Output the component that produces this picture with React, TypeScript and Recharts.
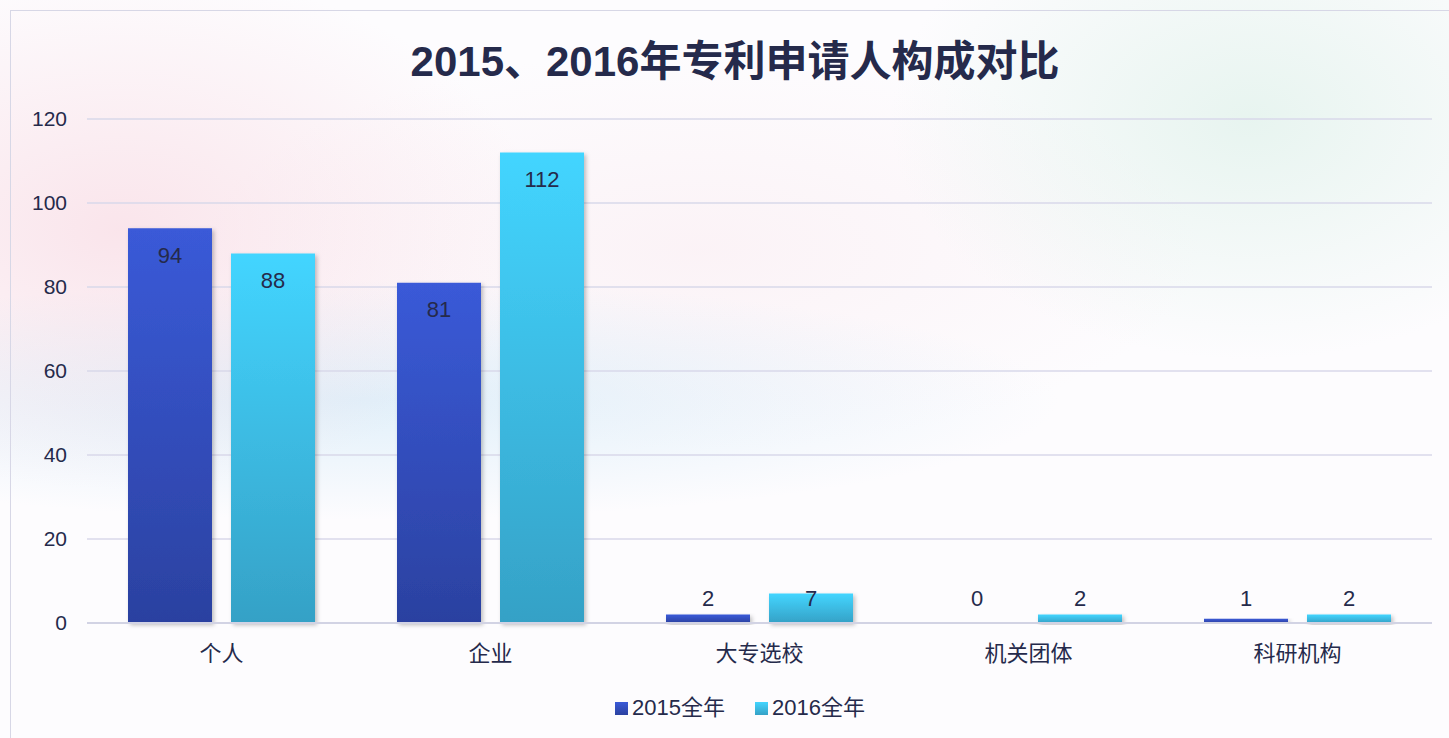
import { BarChart, Bar, XAxis, YAxis, CartesianGrid, Legend, LabelList } from "recharts";

const categories = ["个人", "企业", "大专选校", "机关团体", "科研机构"];
const y2015 = [94, 81, 2, 0, 1];
const y2016 = [88, 112, 7, 2, 2];
const seriesNames = ["2015全年", "2016全年"];
const yTicks = [0, 20, 40, 60, 80, 100, 120];

const data = categories.map((name, i) => ({ name, a: y2015[i], b: y2016[i] }));

const INK = "#252a4b";
const FONT = "'Liberation Sans', Arial, 'Noto Sans CJK SC', sans-serif";

// labels sit inside the top of tall bars, and float above short ones
const BarLabel = (props: any) => {
  const { x, y, width, height, value } = props;
  const cy = Math.min(y + 27, y + height - 25);
  return (
    <text
      x={x + width / 2}
      y={cy}
      textAnchor="middle"
      dominantBaseline="central"
      fill={INK}
      fontSize={22}
      fontFamily={FONT}
    >
      {value}
    </text>
  );
};

// keep zero-value bars (and so their labels) around
const tinyForZero = (v: any) => (v === 0 ? 0.01 : 0);

const LegendContent = () => (
  <div style={{ display: "flex", justifyContent: "center", gap: 30, fontFamily: FONT, fontSize: 22, lineHeight: "26px", color: INK }}>
    {seriesNames.map((n, i) => (
      <div key={n} style={{ display: "flex", alignItems: "center", gap: 4 }}>
        <span
          style={{
            width: 13,
            height: 13,
            display: "inline-block",
            background:
              i === 0
                ? "linear-gradient(#3a5ad8, #2b41a0)"
                : "linear-gradient(#43d5ff, #35a1c6)",
          }}
        />
        {n}
      </div>
    ))}
  </div>
);

export default function App() {
  return (
    <div
      style={{
        position: "absolute",
        left: 0,
        top: 0,
        width: 1449,
        height: 738,
        overflow: "hidden",
        background:
          "radial-gradient(ellipse 420px 260px at 120px 230px, rgba(246,200,212,0.45), transparent)," +
          "radial-gradient(ellipse 700px 120px at 360px 400px, rgba(190,225,245,0.45), transparent)," +
          "radial-gradient(ellipse 360px 240px at 1250px 120px, rgba(205,235,222,0.45), transparent)," +
          "radial-gradient(ellipse 500px 200px at 700px 250px, rgba(248,225,232,0.35), transparent)," +
          "#fdfcfe",
      }}
    >
      <div
        style={{
          position: "absolute",
          left: 10,
          top: 10,
          width: 1460,
          height: 760,
          border: "1px solid #d7d7e6",
        }}
      />
      <div
        style={{
          position: "absolute",
          left: 0,
          width: 1470,
          top: 37,
          textAlign: "center",
          fontFamily: FONT,
          fontWeight: 700,
          fontSize: 42,
          lineHeight: "50px",
          color: INK,
        }}
      >
        2015、2016年专利申请人构成对比
      </div>
      <BarChart
        width={1449}
        height={738}
        data={data}
        margin={{ top: 119, right: 17, left: 0, bottom: 54 }}
        barCategoryGap={41}
        barGap={19}
      >
        <defs>
          <linearGradient id="g15" x1="0" y1="0" x2="0" y2="1">
            <stop offset="0%" stopColor="#3a5ad8" />
            <stop offset="100%" stopColor="#2b41a0" />
          </linearGradient>
          <linearGradient id="g16" x1="0" y1="0" x2="0" y2="1">
            <stop offset="0%" stopColor="#43d5ff" />
            <stop offset="100%" stopColor="#35a1c6" />
          </linearGradient>
          <filter id="sh" x="-10%" y="-10%" width="130%" height="130%">
            <feDropShadow dx="2" dy="2" stdDeviation="2" floodColor="#000" floodOpacity="0.25" />
          </filter>
        </defs>
        <CartesianGrid vertical={false} stroke="#d8d9ea" strokeWidth={1.5} />
        <XAxis
          dataKey="name"
          axisLine={{ stroke: "#d2d3e4", strokeWidth: 2 }}
          tickLine={false}
          tickSize={0}
          tickMargin={22}
          tick={{ fill: INK, fontSize: 22, fontFamily: FONT }}
          height={35}
        />
        <YAxis
          domain={[0, 120]}
          ticks={yTicks}
          axisLine={false}
          tickLine={false}
          tickSize={0}
          tickMargin={20}
          width={87}
          tick={{ fill: INK, fontSize: 21, fontFamily: FONT }}
        />
        <Legend
          verticalAlign="bottom"
          wrapperStyle={{ position: "absolute", top: 695, left: 0, width: 1480 }}
          content={LegendContent}
        />
        <Bar dataKey="a" name={seriesNames[0]} fill="url(#g15)" filter="url(#sh)" minPointSize={tinyForZero} isAnimationActive={false}>
          <LabelList dataKey="a" content={BarLabel} />
        </Bar>
        <Bar dataKey="b" name={seriesNames[1]} fill="url(#g16)" filter="url(#sh)" minPointSize={tinyForZero} isAnimationActive={false}>
          <LabelList dataKey="b" content={BarLabel} />
        </Bar>
      </BarChart>
    </div>
  );
}
